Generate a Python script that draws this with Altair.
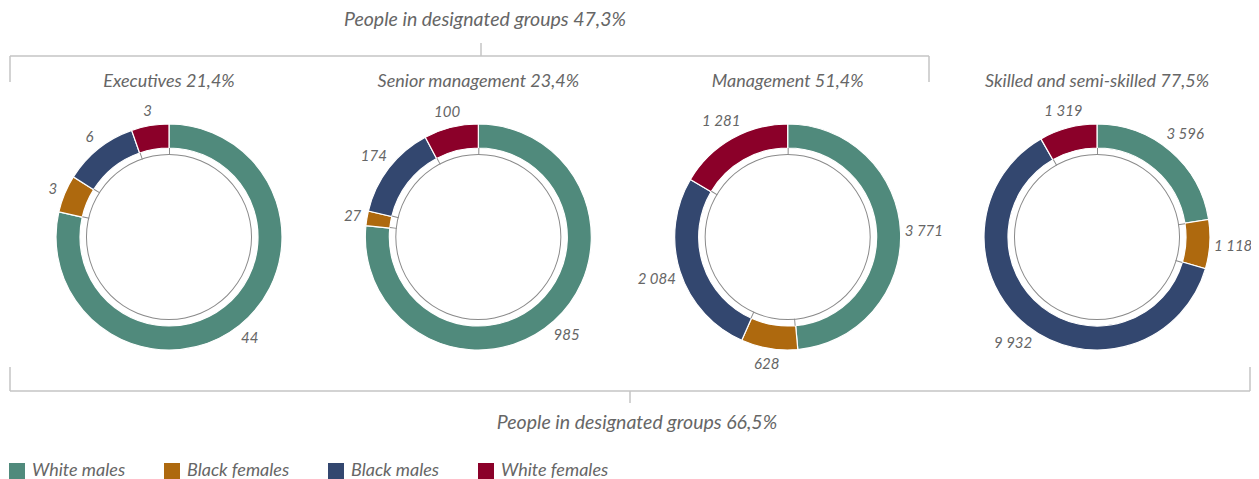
import math
import altair as alt
import pandas as pd

# ---- data ----
categories = ["Executives", "Senior management", "Management", "Skilled and semi-skilled"]
category_pct = ["21,4%", "23,4%", "51,4%", "77,5%"]
groups = ["White males", "Black females", "Black males", "White females"]
white_males = [44, 985, 3771, 3596]
black_females = [3, 27, 628, 1118]
black_males = [6, 174, 2084, 9932]
white_females = [3, 100, 1281, 1319]
colors = ["#508a7c", "#ae690e", "#33476f", "#8b0029"]
top_note = "People in designated groups 47,3%"
bottom_note = "People in designated groups 66,5%"

series = [white_males, black_females, black_males, white_females]
rows = []
for ci, cat in enumerate(categories):
    for gi, g in enumerate(groups):
        v = series[gi][ci]
        rows.append({"category": cat, "group": g, "order": gi, "value": v,
                     "label": f"{v:,}".replace(",", " ")})
df = pd.DataFrame(rows)
titles_df = pd.DataFrame({"category": categories, "pct": category_pct})
one = pd.DataFrame({"a": [0]})

FONT = "Lato"
GRAY = "#666666"
LINE = "#c4c4c4"
CY = 229

xs = alt.X("category:N",
           scale=alt.Scale(type="point", domain=categories, range=[161, 1089], padding=0),
           axis=None)
theta_scale = alt.Scale(domain=[0, 1], range=[0, 2 * math.pi])

seg = (
    alt.Chart(df)
    .transform_joinaggregate(total="sum(value)", groupby=["category"])
    .transform_window(cum="sum(value)", groupby=["category"],
                      sort=[alt.SortField("order")], frame=[None, 0])
    .transform_calculate(
        start="(datum.cum - datum.value) / datum.total",
        end="datum.cum / datum.total",
        mid="(datum.cum - datum.value / 2) / datum.total",
        tick_end="(datum.cum - datum.value) / datum.total + 0.0018",
    )
    .transform_calculate(
        # keep the label's nearest edge at a constant gap outside the ring
        lr="120 + 3.2 * length(datum.label) * abs(sin(datum.mid * 2 * PI))"
           " + 7 * abs(cos(datum.mid * 2 * PI))"
    )
)

arcs = seg.mark_arc(radius=113, radius2=89, stroke="white", strokeWidth=1.2).encode(
    x=xs,
    y=alt.value(CY),
    theta=alt.Theta("start:Q", scale=theta_scale),
    theta2="end:Q",
    color=alt.Color(
        "group:N",
        scale=alt.Scale(domain=groups, range=colors),
        legend=alt.Legend(
            orient="none", legendX=0, legendY=454, direction="horizontal",
            title=None, symbolType="square", symbolSize=256, symbolStrokeWidth=0,
            labelFont=FONT, labelFontStyle="italic", labelFontSize=18,
            labelColor=GRAY, columnPadding=37, labelOffset=6, symbolOpacity=1,
        ),
    ),
)

ticks = seg.mark_arc(radius=89, radius2=82, color="#8a8a8a").encode(
    x=xs,
    y=alt.value(CY),
    theta=alt.Theta("start:Q", scale=theta_scale),
    theta2="tick_end:Q",
)

ring = alt.Chart(titles_df).mark_arc(
    radius=83, radius2=82, theta=0, theta2=2 * math.pi, color="#8a8a8a"
).encode(x=xs, y=alt.value(CY))

labels = seg.mark_text(
    font=FONT, fontStyle="italic", fontSize=15, color=GRAY,
    align="center", baseline="middle",
).encode(
    x=xs,
    y=alt.value(CY),
    theta=alt.Theta("mid:Q", scale=theta_scale),
    radius=alt.Radius("lr:Q", scale=None),
    text="label:N",
)

titles = alt.Chart(titles_df).transform_calculate(
    t="datum.category + ' ' + datum.pct"
).mark_text(
    font=FONT, fontStyle="italic", fontSize=18, color=GRAY, baseline="middle"
).encode(x=xs, y=alt.value(74), text="t:N")


def rule(x, x2, y, y2):
    return alt.Chart(one).mark_rule(color=LINE, strokeWidth=1.5).encode(
        x=alt.value(x), x2=alt.value(x2), y=alt.value(y), y2=alt.value(y2)
    )


def note(text, x, y):
    return alt.Chart(one).mark_text(
        text=text, font=FONT, fontStyle="italic", fontSize=19.5, color=GRAY,
        align="center", baseline="middle",
    ).encode(x=alt.value(x), y=alt.value(y))


brackets = [
    rule(2, 921, 48, 48), rule(2, 2, 48, 74), rule(921, 921, 48, 74), rule(473, 473, 35, 48),
    rule(2, 1242, 383, 383), rule(2, 2, 359, 383), rule(1242, 1242, 359, 383),
    rule(622, 622, 383, 395),
    note(top_note, 477, 12), note(bottom_note, 629, 415),
]

chart = alt.layer(arcs, ticks, ring, labels, titles, *brackets).properties(
    width=1243, height=471, autosize="none", padding=0
).configure_view(stroke=None)

chart.save("out.html", embed_options={"renderer": "svg", "actions": False})
